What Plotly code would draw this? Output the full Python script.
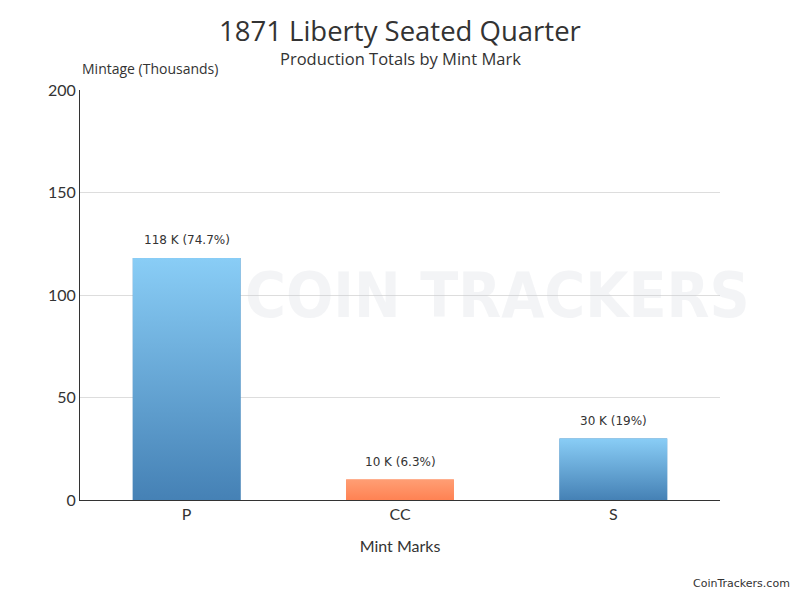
import plotly.graph_objects as go

categories = ["P", "CC", "S"]
values = [118, 10, 30]
percents = ["74.7%", "6.3%", "19%"]
tick_vals = [0, 50, 100, 150, 200]

top_colors = ["#89CDF6", "#FF9E74", "#89CDF6"]
bottom_colors = ["#4581B5", "#FF8253", "#4581B5"]
bar_width = 0.505

labels = [f"{v} K ({p})" for v, p in zip(values, percents)]
xs = list(range(len(categories)))

fig = go.Figure()
fig.add_trace(go.Bar(
    x=xs, y=values, width=bar_width,
    marker=dict(color=bottom_colors, line=dict(width=0)),
    hoverinfo="skip", showlegend=False,
))
for x, v, tc, bc in zip(xs, values, top_colors, bottom_colors):
    fig.add_trace(go.Scatter(
        x=[x - bar_width / 2, x + bar_width / 2, x + bar_width / 2, x - bar_width / 2, x - bar_width / 2],
        y=[0, 0, v, v, 0],
        mode="lines", line=dict(width=0), fill="toself",
        fillgradient=dict(type="vertical", colorscale=[[0, bc], [1, tc]]),
        hoverinfo="skip", showlegend=False,
    ))

annotations = [
    dict(text="<b>COIN TRACKERS</b>", xref="paper", yref="paper", x=0.255, y=0.5, xanchor="left", yanchor="middle",
         showarrow=False, font=dict(family="DejaVu Sans Condensed", size=62, color="rgba(200,206,215,0.22)")),
    dict(text="1871 Liberty Seated Quarter", xref="paper", yref="paper", x=0.5, y=1.0,
         xanchor="center", yanchor="middle", yshift=60, showarrow=False,
         font=dict(family="Open Sans", size=27.5, color="#333333")),
    dict(text="Production Totals by Mint Mark", xref="paper", yref="paper", x=0.5, y=1.0,
         xanchor="center", yanchor="middle", yshift=32, showarrow=False,
         font=dict(family="Open Sans", size=16.5, color="#333333")),
    dict(text="Mintage (Thousands)", xref="paper", yref="paper", x=0, y=1.0,
         xanchor="left", yanchor="middle", yshift=22, showarrow=False,
         font=dict(family="Open Sans", size=14, color="#333333")),
    dict(text="CoinTrackers.com", xref="paper", yref="paper", x=1.1125, y=-0.2244,
         xanchor="right", yanchor="bottom", showarrow=False,
         font=dict(family="DejaVu Sans", size=11, color="#333333")),
]
for x, v, lab in zip(xs, values, labels):
    annotations.append(dict(text=lab, x=x, y=v, xref="x", yref="y", xanchor="center", yanchor="middle",
                            yshift=18, showarrow=False,
                            font=dict(family="DejaVu Sans", size=12, color="#333333")))

fig.update_layout(
    width=800, height=600,
    margin=dict(l=72, r=88, t=82, b=108),
    paper_bgcolor="white", plot_bgcolor="white",
    xaxis=dict(
        tickmode="array", tickvals=xs, ticktext=categories, range=[-0.5, 2.5],
        showgrid=False, showline=True, linecolor="#333333", linewidth=1, ticks="",
        tickfont=dict(family="Lato", size=16, color="#333333"),
        title=dict(text="Mint Marks", font=dict(family="Lato", size=16, color="#333333"), standoff=18),
        zeroline=False, fixedrange=True,
    ),
    yaxis=dict(
        range=[0, 200], tickvals=tick_vals, showgrid=True, gridcolor="#dddddd", gridwidth=1,
        showline=True, linecolor="#333333", linewidth=1, ticks="",
        tickfont=dict(family="Lato", size=16, color="#333333"), zeroline=False, fixedrange=True,
    ),
    annotations=annotations,
)
fig.write_html("out.html")
